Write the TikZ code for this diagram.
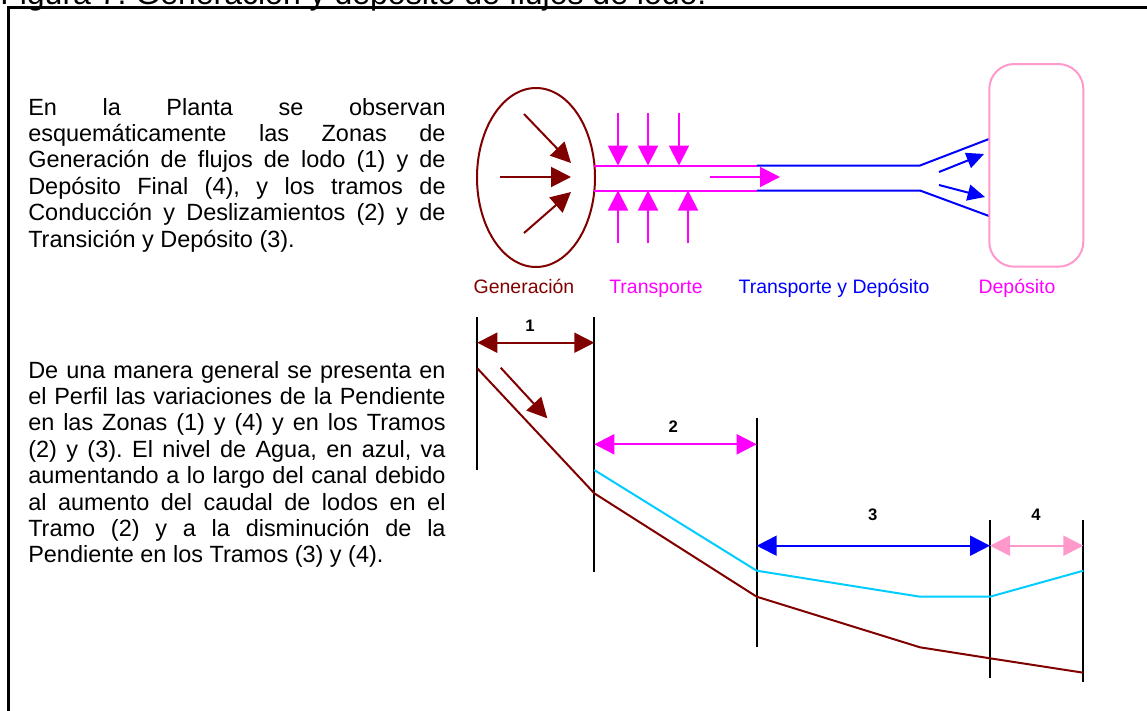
\documentclass[tikz,border=0pt]{standalone}
\usepackage{fontspec}
\setmainfont{Liberation Sans}
\usetikzlibrary{arrows.meta}
\definecolor{lodo}{HTML}{800000}
\definecolor{mag}{HTML}{FF00FF}
\definecolor{azul}{HTML}{0000FF}
\definecolor{rosa}{HTML}{FF99CC}
\definecolor{agua}{HTML}{00CCFF}
\frenchspacing

\begin{document}
\begin{tikzpicture}[x=0.75pt, y=-0.75pt,
    txt/.style={anchor=base west, inner sep=0pt, text width=313pt, align=justify,
      font=\fontsize{17.6}{19.8}\selectfont},
    lbl/.style={anchor=base, inner sep=0pt, font=\fontsize{14.6}{17}\selectfont},
    num/.style={inner sep=0pt, font=\fontsize{12.5}{14}\selectfont\bfseries},
    lin/.style={line width=1.5pt},
    tip/.style={-{Triangle[length=15pt, width=15pt]}},
    bt/.style={-{Triangle[length=13pt, width=12pt]}},
    dim/.style={line width=1.5pt,
      {Triangle[length=15pt, width=15pt]}-{Triangle[length=15pt, width=15pt]}}
  ]
  \useasboundingbox (0,0) rectangle (1147,711);
  \clip (0,0) rectangle (1147,711);
  % titulo y marco
  \node[anchor=base west, inner sep=0pt, font=\fontsize{24}{28}\selectfont] (tit) at (0,4)
    {Figura 7. Generación y depósito de flujos de lodo.};
  \draw[line width=2pt] (8.5,800) |- (1200,7.5);
  % textos
  \node[txt] (p1) at (28,115) {En la Planta se observan\linebreak
    esquemáticamente las Zonas de\linebreak
    Generación de flujos de lodo (1) y de\linebreak
    Depósito Final (4), y los tramos de\linebreak
    Conducción y Deslizamientos (2) y de\linebreak
    Transición y Depósito (3).};
  \node[txt] (p2) at (28,378) {De una manera general se presenta en\linebreak
    el Perfil las variaciones de la Pendiente\linebreak
    en las Zonas (1) y (4) y en los Tramos\linebreak
    (2) y (3). El nivel de Agua, en azul, va\linebreak
    aumentando a lo largo del canal debido\linebreak
    al aumento del caudal de lodos en el\linebreak
    Tramo (2) y a la disminución de la\linebreak
    Pendiente en los Tramos (3) y (4).};
  % planta
  \draw[lodo, lin] (536,177.5) ellipse [x radius=59, y radius=89.5];
  \foreach \xa/\ya/\yb in {524/114/163, 500/177/177, 524/233/192}
    \draw[lodo, lin, tip] (\xa,\ya) -- (571,\yb);
  \draw[mag, lin] (594,165.5) -- (757,165.5) (594,190.5) -- (757,190.5);
  \draw[azul, lin] (757,165.5) -- (920,165.5) -- (989,139)
    (757,190.5) -- (920,190.5) -- (989,216);
  \foreach \xa in {618,648,679}
    \draw[mag, lin, tip] (\xa,113) -- (\xa,165.5);
  \foreach \xa in {618,648,688}
    \draw[mag, lin, tip] (\xa,243) -- (\xa,190.5);
  \draw[mag, lin, tip] (710,177) -- (780,177);
  \draw[azul, lin, bt] (939,172) -- (984,154);
  \draw[azul, lin, bt] (939,185) -- (985,197);
  \draw[rosa, lin, rounded corners=18.75pt] (989.3,64) rectangle (1083.3,266.7);
  \node[lbl, text=lodo] (lgen) at (524,293) {Generación};
  \node[lbl, text=mag] (ltra) at (656,293) {Transporte};
  \node[lbl, text=azul] (ltd) at (834,293) {Transporte y Depósito};
  \node[lbl, text=mag] (ldep) at (1017,293) {Depósito};
  % perfil
  \foreach \xa/\ya/\yb in {477.3/317/470, 594.3/317/572, 756.7/418/647,
      990/520/678, 1083.3/520/682}
    \draw[lin] (\xa,\ya) -- (\xa,\yb);
  \draw[dim, lodo] (477.3,342.7) -- (594.3,342.7);
  \draw[dim, mag] (594.3,444.3) -- (756.7,444.3);
  \draw[dim, azul] (756.7,545.7) -- (990,545.7);
  \draw[dim, rosa] (990,545.7) -- (1083.3,545.7);
  \node[num] (n1) at (530,326) {1};
  \node[num] (n2) at (673.3,426.7) {2};
  \node[num] (n3) at (872.7,515) {3};
  \node[num] (n4) at (1036,515) {4};
  \draw[lodo, lin, tip] (500.7,367.7) -- (547.3,418.3);
  \draw[lodo, lin] (477.3,368.3) -- (594.3,493.3) -- (756.7,596.7)
    -- (920,647.3) -- (990,658.3) -- (1083.3,672.7);
  \draw[agua, lin] (594.3,470) -- (756.7,570.7) -- (920,596.7)
    -- (990,596.7) -- (1083.3,570.7);
\end{tikzpicture}
\end{document}
